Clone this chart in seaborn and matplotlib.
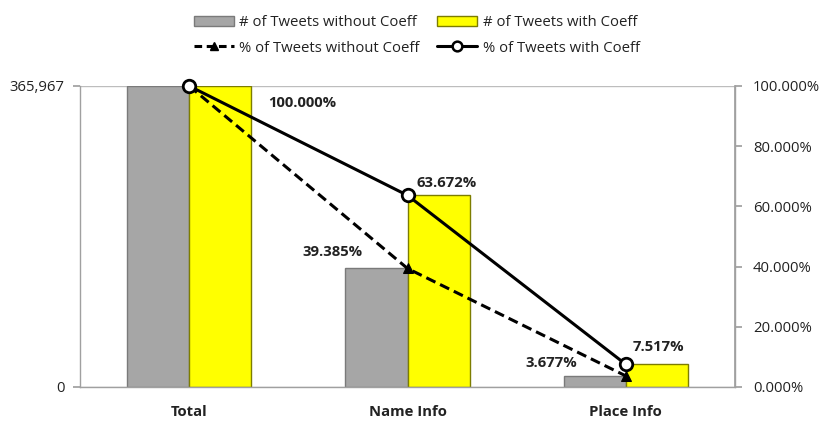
import numpy as np
import pandas as pd
import matplotlib
matplotlib.use("Agg")
import matplotlib.pyplot as plt
import matplotlib.ticker as mticker
from matplotlib.patches import Patch
from matplotlib.lines import Line2D
import seaborn as sns

categories = ["Total", "Name Info", "Place Info"]
count_without = [365967, 144133, 13457]
count_with = [365967, 233017, 27510]
pct_without = [1.0, 0.39385, 0.03677]
pct_with = [1.0, 0.63672, 0.07517]
pct_without_labels = ["100.000%", "39.385%", "3.677%"]
pct_with_labels = ["100.000%", "63.672%", "7.517%"]
series_names = ["# of Tweets without Coeff", "# of Tweets with Coeff"]
line_names = ["% of Tweets without Coeff", "% of Tweets with Coeff"]

sns.set_theme(style="white")
plt.rcParams["font.family"] = ["Open Sans", "DejaVu Sans"]

df = pd.DataFrame({
    "cat": categories * 2,
    "count": count_without + count_with,
    "series": [series_names[0]] * 3 + [series_names[1]] * 3,
})

fig = plt.figure(figsize=(8.22, 4.21), dpi=100)
ax = fig.add_axes([80 / 822, 1 - 387 / 421, (735 - 80) / 822, (387 - 86) / 421])

gray = "#a6a6a6"
yellow = "#ffff00"
sns.barplot(data=df, x="cat", y="count", hue="series", order=categories,
            hue_order=series_names, palette=[gray, yellow], width=0.57,
            saturation=1, ax=ax, legend=False, zorder=2)
edges = ["#7a7a7a", "#7d7d00"]
for cont, ec in zip(ax.containers, edges):
    for p in cont:
        p.set_edgecolor(ec)
        p.set_linewidth(1.0)

txtc = "#222222"
ax.set_xlim(-0.5, 2.5)
ax.set_ylim(0, 365967)
ax.set_yticks([0, 365967])
ax.yaxis.set_major_formatter(mticker.FuncFormatter(lambda v, p: f"{int(round(v)):,}"))
ax.set_xlabel("")
ax.set_ylabel("")
ax.yaxis.grid(True, color="#bdbdbd", linewidth=1.0)
ax.set_axisbelow(True)
ax.spines["top"].set_visible(False)
for s in ["left", "bottom", "right"]:
    ax.spines[s].set_color("#a0a0a0")
    ax.spines[s].set_linewidth(1.0)
ax.tick_params(axis="y", which="both", left=True, length=5, color="#a0a0a0",
               labelsize=10.7, labelcolor=txtc, pad=6)
ax.tick_params(axis="x", bottom=False, labelsize=10.7, labelcolor=txtc, pad=7)
for t in ax.get_xticklabels():
    t.set_fontweight("bold")

ax2 = ax.twinx()
xpos = np.arange(len(categories))
sns.lineplot(x=xpos, y=pct_without, ax=ax2, color="black", linewidth=2.2,
             linestyle=(0, (3.3, 1.7)), marker="^", markersize=7,
             markerfacecolor="black", markeredgecolor="black", clip_on=False,
             legend=False)
sns.lineplot(x=xpos, y=pct_with, ax=ax2, color="black", linewidth=2.2,
             marker="o", markersize=9, markerfacecolor="white",
             markeredgecolor="black", markeredgewidth=2, clip_on=False,
             legend=False)
ax2.set_ylim(0, 1)
ax2.set_yticks(np.arange(0, 1.01, 0.2))
ax2.yaxis.set_major_formatter(mticker.FuncFormatter(lambda v, p: f"{v * 100:.3f}%"))
ax2.set_ylabel("")
for s in ["top", "left", "bottom"]:
    ax2.spines[s].set_visible(False)
ax2.spines["right"].set_color("#a0a0a0")
ax2.tick_params(axis="y", right=True, length=5, color="#a0a0a0",
                labelsize=10.7, labelcolor=txtc, pad=8)
ax2.set_xlim(-0.5, 2.5)

# annotations (offsets in points)
ann_kw = dict(fontsize=10.7, fontweight="bold", color=txtc,
              textcoords="offset points")
ax2.annotate(pct_with_labels[0], (xpos[0], pct_with[0]), xytext=(57, -12),
             ha="left", va="center", **ann_kw)
ax2.annotate(pct_with_labels[1], (xpos[1], pct_with[1]), xytext=(6.5, 9),
             ha="left", va="center", **ann_kw)
ax2.annotate(pct_with_labels[2], (xpos[2], pct_with[2]), xytext=(5, 12.5),
             ha="left", va="center", **ann_kw)
ax2.annotate(pct_without_labels[1], (xpos[1], pct_without[1]), xytext=(-32, 12),
             ha="right", va="center", **ann_kw)
ax2.annotate(pct_without_labels[2], (xpos[2], pct_without[2]), xytext=(-35, 9),
             ha="right", va="center", **ann_kw)

handles = [
    Patch(facecolor=gray, edgecolor=edges[0], label=series_names[0]),
    Line2D([], [], color="black", linewidth=2.2, linestyle=(0, (2.5, 1.5)), marker="^",
           markersize=6, markerfacecolor="black", label=line_names[0]),
    Patch(facecolor=yellow, edgecolor=edges[1], label=series_names[1]),
    Line2D([], [], color="black", linewidth=2.2, marker="o", markersize=7,
           markerfacecolor="white", markeredgewidth=1.8, label=line_names[1]),
]
fig.legend(handles=handles, ncol=2, loc="center", bbox_to_anchor=(0.507, 0.916),
           frameon=False, fontsize=10.7, handlelength=2.7, handleheight=0.67,
           columnspacing=1.2, handletextpad=0.35, labelspacing=0.7,
           labelcolor=txtc)

fig.savefig("out.png", dpi=100)
